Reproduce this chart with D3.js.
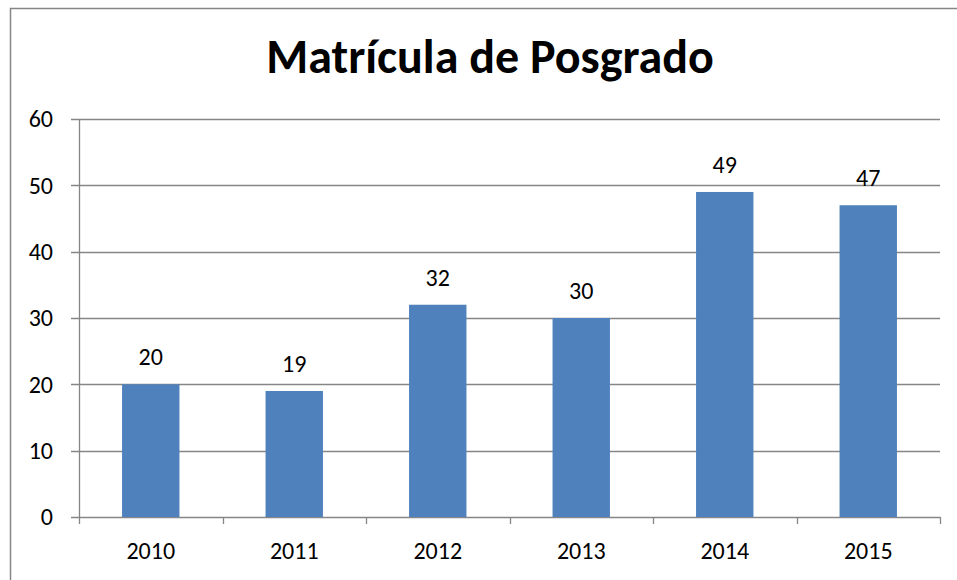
<!DOCTYPE html>
<html>
<head>
<meta charset="utf-8">
<script src="https://cdn.jsdelivr.net/npm/d3@7"></script>
<style>
  body { margin: 0; background: #fff; }
  svg { display: block; font-family: Carlito, "Open Sans", "Liberation Sans", sans-serif; }
</style>
</head>
<body>
<div id="chart"></div>
<script>
// data
const years = ["2010", "2011", "2012", "2013", "2014", "2015"];
const enrollment = [20, 19, 32, 30, 49, 47];
const yTicks = [0, 10, 20, 30, 40, 50, 60];
const title = "Matrícula de Posgrado";

const width = 957, height = 580;
const margin = { top: 119, right: 17, bottom: 63, left: 79 };

const svg = d3.select("#chart").append("svg")
  .attr("width", width).attr("height", height);

// chart border
svg.append("rect")
  .attr("x", 10.5).attr("y", 8.5)
  .attr("width", 970).attr("height", 600)
  .attr("fill", "none").attr("stroke", "#868686").attr("stroke-width", 1.5);

// scales
const x = d3.scaleBand().domain(years)
  .range([margin.left, width - margin.right])
  .paddingInner(0.6).paddingOuter(0.3);
const xOuter = d3.scaleBand().domain(years)
  .range([margin.left, width - margin.right]);
const y = d3.scaleLinear().domain([0, 60])
  .range([height - margin.bottom, margin.top]);

// gridlines
svg.append("g").selectAll("line")
  .data(yTicks)
  .join("line")
  .attr("x1", margin.left - 8).attr("x2", width - margin.right)
  .attr("y1", d => Math.round(y(d)) + 0.5).attr("y2", d => Math.round(y(d)) + 0.5)
  .attr("stroke", "#868686").attr("stroke-width", 1.3);

// y axis line
svg.append("line")
  .attr("x1", margin.left + 0.5).attr("x2", margin.left + 0.5)
  .attr("y1", margin.top).attr("y2", height - margin.bottom)
  .attr("stroke", "#868686").attr("stroke-width", 1.3);

// y tick labels
svg.append("g").selectAll("text")
  .data(yTicks)
  .join("text")
  .attr("x", 53).attr("y", d => y(d))
  .attr("dy", "0.35em")
  .attr("text-anchor", "end")
  .attr("font-size", 24)
  .attr("fill", "#000")
  .text(d => d);

// bars
svg.append("g").selectAll("rect")
  .data(enrollment)
  .join("rect")
  .attr("x", (d, i) => x(years[i]))
  .attr("y", d => y(d))
  .attr("width", x.bandwidth())
  .attr("height", d => y(0) - y(d))
  .attr("fill", "#4f81bd");

// x axis ticks
const xTickPos = years.map(d => xOuter(d)).concat([width - margin.right]);
svg.append("g").selectAll("line")
  .data(xTickPos)
  .join("line")
  .attr("x1", d => Math.round(d) + 0.5).attr("x2", d => Math.round(d) + 0.5)
  .attr("y1", y(0)).attr("y2", y(0) + 7)
  .attr("stroke", "#868686").attr("stroke-width", 1.3);

// x labels
svg.append("g").selectAll("text")
  .data(years)
  .join("text")
  .attr("x", d => xOuter(d) + xOuter.bandwidth() / 2)
  .attr("y", 559)
  .attr("text-anchor", "middle")
  .attr("font-size", 24)
  .attr("fill", "#000")
  .text(d => d);

// value labels
svg.append("g").selectAll("text")
  .data(enrollment)
  .join("text")
  .attr("x", (d, i) => x(years[i]) + x.bandwidth() / 2)
  .attr("y", d => y(d) - 19)
  .attr("text-anchor", "middle")
  .attr("font-size", 24)
  .attr("fill", "#000")
  .text(d => d);

// title
svg.append("text")
  .attr("x", 490).attr("y", 73)
  .attr("text-anchor", "middle")
  .attr("font-size", 48)
  .attr("font-weight", "bold")
  .attr("fill", "#000")
  .text(title);
</script>
</body>
</html>
